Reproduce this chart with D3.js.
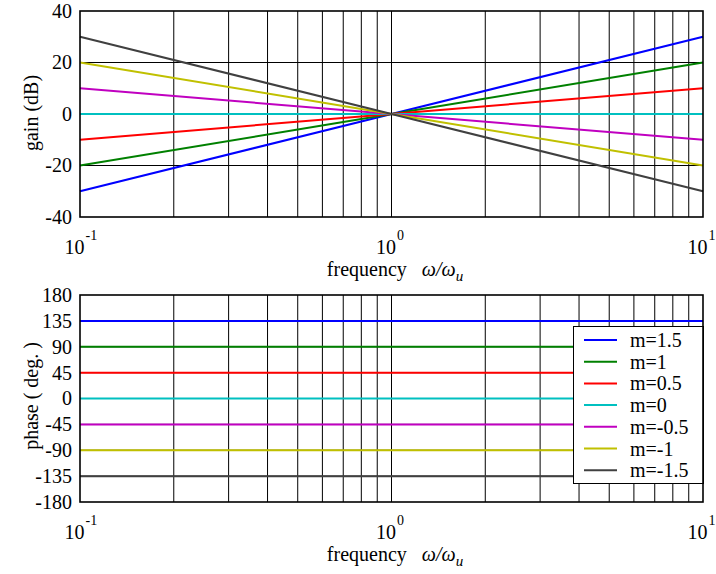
<!DOCTYPE html>
<html><head><meta charset="utf-8">
<script src="https://cdn.jsdelivr.net/npm/d3@7"></script>
<style>
html,body{margin:0;padding:0;background:#fff;}
svg text{font-family:"Liberation Serif","Times New Roman",serif;fill:#000;}
</style></head>
<body><svg id="c" width="716" height="574"></svg>
<script>
// ---- data ----
const freqs = [0.1, 1, 10];
const seriesNames = ["m=1.5","m=1","m=0.5","m=0","m=-0.5","m=-1","m=-1.5"];
const seriesColors = ["#0000ff","#008000","#ff0000","#00c0c0","#c000c0","#c0c000","#404040"];
const gainM15 = [-30, 0, 30];
const gainM1 = [-20, 0, 20];
const gainM05 = [-10, 0, 10];
const gainM0 = [0, 0, 0];
const gainMn05 = [10, 0, -10];
const gainMn1 = [20, 0, -20];
const gainMn15 = [30, 0, -30];
const phaseM15 = [135, 135, 135];
const phaseM1 = [90, 90, 90];
const phaseM05 = [45, 45, 45];
const phaseM0 = [0, 0, 0];
const phaseMn05 = [-45, -45, -45];
const phaseMn1 = [-90, -90, -90];
const phaseMn15 = [-135, -135, -135];
const gainTicks = [-40, -20, 0, 20, 40];
const phaseTicks = [-180, -135, -90, -45, 0, 45, 90, 135, 180];
const xTickLabels = [{v:0.1, exp:"-1"}, {v:1, exp:"0"}, {v:10, exp:"1"}];

const gainSeries = [gainM15, gainM1, gainM05, gainM0, gainMn05, gainMn1, gainMn15];
const phaseSeries = [phaseM15, phaseM1, phaseM05, phaseM0, phaseMn05, phaseMn1, phaseMn15];

const svg = d3.select("#c");
const x = d3.scaleLog().domain([0.1, 10]).range([80, 703]);
const gridX = [];
[0.1, 1].forEach(d => { for (let k = 1; k <= 9; k++) gridX.push(d * k); });

function panel(top, bottom, yDomain, yTicks, series, yLabel, yLabelY, legend) {
  const y = d3.scaleLinear().domain(yDomain).range([bottom, top]);
  const g = svg.append("g");
  g.selectAll(".hg").data(yTicks.slice(1, -1)).join("line")
    .attr("x1", 80).attr("x2", 703).attr("y1", d => y(d)).attr("y2", d => y(d))
    .attr("stroke", "#000").attr("stroke-width", 1);
  g.selectAll(".vg").data(gridX.slice(1)).join("line")
    .attr("x1", d => x(d)).attr("x2", d => x(d)).attr("y1", top).attr("y2", bottom)
    .attr("stroke", "#000").attr("stroke-width", 1);
  const line = d3.line().x((d, i) => x(freqs[i])).y(d => y(d));
  g.selectAll(".s").data(series).join("path")
    .attr("d", d => line(d)).attr("fill", "none")
    .attr("stroke", (d, i) => seriesColors[i]).attr("stroke-width", 2);
  if (legend) {
    const lg = g.append("g");
    lg.append("rect").attr("x", 573.5).attr("y", 326.5).attr("width", 130).attr("height", 157)
      .attr("fill", "#fff").attr("stroke", "#000").attr("stroke-width", 1);
    seriesNames.forEach((n, i) => {
      const yy = 340 + i * 21.7;
      lg.append("line").attr("x1", 584).attr("x2", 617).attr("y1", yy).attr("y2", yy)
        .attr("stroke", seriesColors[i]).attr("stroke-width", 2);
      lg.append("text").attr("x", 630).attr("y", yy + 7).attr("font-size", 20).text(n);
    });
  }
  g.append("rect").attr("x", 80).attr("y", top).attr("width", 623).attr("height", bottom - top)
    .attr("fill", "none").attr("stroke", "#000").attr("stroke-width", 1.6);
  const ya = g.append("g").attr("transform", "translate(80,0)")
    .call(d3.axisLeft(y).tickValues(yTicks).tickSize(0).tickPadding(8).tickFormat(d => String(d)));
  ya.select(".domain").remove();
  ya.selectAll("text").attr("font-size", 20).attr("fill", "#000");
  const xa = g.append("g").attr("transform", `translate(0,${bottom})`)
    .call(d3.axisBottom(x).tickValues(xTickLabels.map(d => d.v)).tickSize(0).tickFormat(""));
  xa.select(".domain").remove();
  xa.selectAll(".tick text").each(function(d) {
    const t = d3.select(this);
    const e = xTickLabels.find(o => o.v === d).exp;
    t.attr("x", -16).attr("y", 37).attr("dy", null).attr("font-size", 20)
      .attr("text-anchor", "start").attr("fill", "#000");
    t.append("tspan").text("10");
    t.append("tspan").attr("font-size", 14).attr("dy", -14).attr("dx", 1).text(e);
  });
  const xl = g.append("text").attr("x", 395).attr("y", bottom + 59).attr("font-size", 20)
    .attr("text-anchor", "middle");
  xl.append("tspan").text("frequency");
  xl.append("tspan").attr("font-style", "italic").attr("dx", 15).text("ω/ω");
  xl.append("tspan").attr("font-style", "italic").attr("font-size", 15).attr("dy", 5).text("u");
  g.append("text").attr("transform", `translate(38,${yLabelY}) rotate(-90)`)
    .attr("text-anchor", "middle").attr("font-size", 20).text(yLabel);
}

panel(11, 217, [-40, 40], gainTicks, gainSeries, "gain (dB)", 113, false);
panel(295, 502, [-180, 180], phaseTicks, phaseSeries, "phase ( deg. )", 396, true);
</script></body></html>
